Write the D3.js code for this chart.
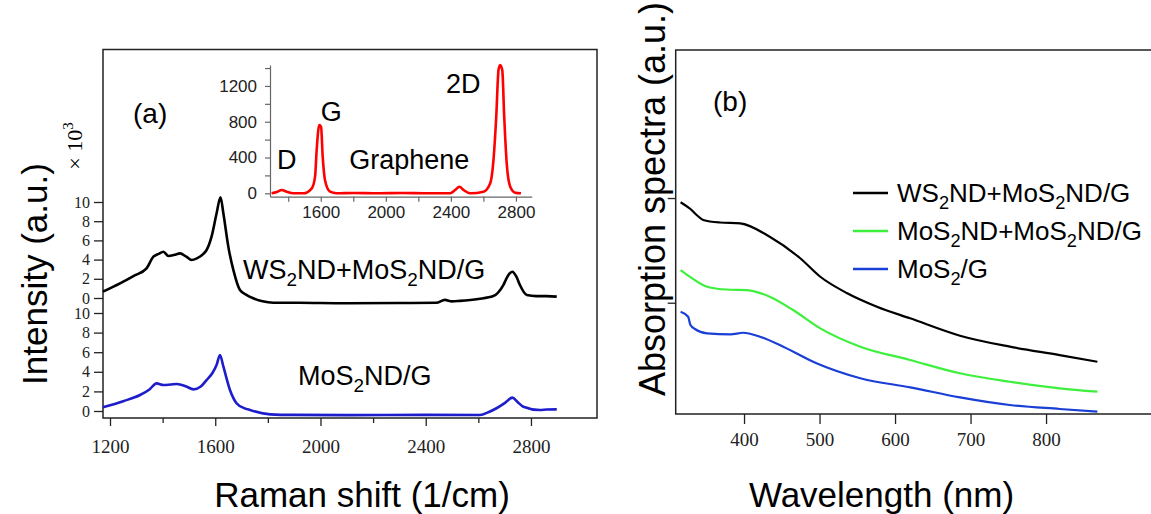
<!DOCTYPE html>
<html>
<head>
<meta charset="utf-8">
<script src="https://cdn.jsdelivr.net/npm/d3@7"></script>
<style>
  body { margin: 0; background: #fff; }
  svg { display: block; }
  text { font-family: "Liberation Sans", Arial, sans-serif; fill: #000; }
  .serif text, text.serif { font-family: "Liberation Serif", "Times New Roman", serif; }
</style>
</head>
<body>
<svg id="chart" width="1151" height="514"></svg>
<script>
// (a) Raman, WS2ND+MoS2ND/G  (x 1/cm, intensity x10^3)
const wsShift = [1173,1238,1289,1339,1365,1385,1403,1422,1445,1466,1490,1510,1530,1555,1567,1586,1605,1620,1631,1650,1669,1694,1720,1745,1780,1821,1922,2100,2300,2440,2473,2500,2530,2600,2657,2695,2712,2729,2745,2758,2784,2820,2860,2898];
const wsInt   = [0.66,1.53,2.29,3.09,4.3,4.6,4.82,4.38,4.5,4.65,4.3,3.96,4.13,4.6,5.0,6.4,8.8,10.5,8.8,5.3,2.9,0.83,0.3,-0.03,-0.35,-0.49,-0.5,-0.55,-0.52,-0.5,-0.2,-0.35,-0.3,-0.1,0.2,1.35,2.3,2.74,2.2,1.35,0.31,0.2,0.2,0.14];
// (a) Raman, MoS2ND/G
const moShift = [1173,1250,1314,1350,1377,1403,1430,1454,1490,1517,1545,1567,1590,1605,1618,1631,1656,1681,1710,1732,1808,1900,2100,2400,2606,2640,2669,2700,2729,2750,2771,2834,2860,2898];
const moInt   = [0.38,1.0,1.63,2.2,2.82,2.65,2.7,2.76,2.5,2.21,2.5,3.16,3.9,4.69,5.71,4.52,2.14,0.79,0.3,0.1,-0.34,-0.4,-0.42,-0.4,-0.41,-0.1,0.28,0.8,1.36,0.9,0.44,0.1,0.15,0.17];
// inset, graphene
const grShift = [1298,1330,1360,1391,1431,1493,1545,1565,1575,1591,1602,1612,1626,1657,1698,1800,1950,2100,2250,2396,2426,2453,2478,2519,2601,2642,2662,2679,2693,2703,2716,2728,2745,2765,2796,2831];
const grInt   = [0,15,37,18,0,0,56,186,484,763,744,409,149,18,0,4,0,3,0,0,37,74,37,0,18,112,372,856,1378,1434,1378,856,297,74,7,0];

// (b) absorption
const wlBlack = [316,329,338,346,368,395,434,474,501,536,576,620,686,752,818,868];
const abBlack = [1.96,1.895,1.833,1.79,1.766,1.758,1.63,1.427,1.248,1.093,0.962,0.851,0.685,0.58,0.5,0.436];
const wlGreen = [316,329,351,377,404,434,465,501,554,620,686,752,818,868];
const abGreen = [1.312,1.245,1.153,1.126,1.121,1.057,0.93,0.755,0.58,0.453,0.326,0.245,0.182,0.15];
const wlBlue  = [316,326,329,335,351,382,399,421,452,496,554,620,686,752,818,868];
const abBlue  = [0.914,0.866,0.787,0.749,0.708,0.698,0.713,0.675,0.58,0.421,0.278,0.192,0.096,0.023,-0.015,-0.041];

const legendNames = [["WS","2","ND+MoS","2","ND/G"],["MoS","2","ND+MoS","2","ND/G"],["MoS","2","/G"]];
const legendColors = ["#000000","#3cf03c","#1a3fd6"];

const svg = d3.select("#chart");
svg.append("rect").attr("width",1151).attr("height",514).attr("fill","#fff");
const fmt = d3.format("d");

// writes text with subscripts (odd entries of parts are subscripts)
function subText(g, x, y, size, parts) {
  const t = g.append("text").attr("x", x).attr("y", y).style("font-size", size + "px");
  const shift = size * 0.25;
  parts.forEach((p, i) => {
    const sp = t.append("tspan").text(p);
    if (i % 2 === 1) sp.attr("dy", shift).style("font-size", (size * 0.7) + "px");
    else if (i > 0) sp.attr("dy", -shift);
  });
  return t;
}

// ---------- panel (a) ----------
const aBox = { left: 103, right: 597, top: 49.5, bottom: 418 };
const xA = d3.scaleLinear().domain([1173.4, 3051]).range([aBox.left, aBox.right]);
const yUp = d3.scaleLinear().domain([0, 10]).range([298, 202]);
const yLow = d3.scaleLinear().domain([0, 10]).range([411, 313]);

svg.append("rect")
  .attr("x", aBox.left).attr("y", aBox.top)
  .attr("width", aBox.right - aBox.left).attr("height", aBox.bottom - aBox.top)
  .attr("fill", "none").attr("stroke", "#222").attr("stroke-width", 1.5);

const styleAxis = (g, size) => {
  g.select(".domain").remove();
  g.selectAll("line").attr("stroke", "#222").attr("stroke-width", 1.3);
  g.selectAll("text").style("font-size", size + "px").style("fill", "#222");
};

[yUp, yLow].forEach(s => {
  svg.append("g").attr("class", "serif")
    .attr("transform", `translate(${aBox.left},0)`)
    .call(d3.axisLeft(s).tickValues([0,2,4,6,8,10]).tickSize(9).tickPadding(4).tickFormat(fmt))
    .call(g => styleAxis(g, 16));
});

svg.append("g").attr("class", "serif")
  .attr("transform", `translate(0,${aBox.bottom})`)
  .call(d3.axisBottom(xA).tickValues([1200,1600,2000,2400,2800]).tickSize(8).tickPadding(14).tickFormat(fmt))
  .call(g => styleAxis(g, 19));
svg.append("g")
  .attr("transform", `translate(0,${aBox.bottom})`)
  .call(d3.axisBottom(xA).tickValues([1400,1800,2200,2600]).tickSize(5).tickFormat(""))
  .call(g => styleAxis(g, 19));

const lineWs = d3.line().x((d, i) => xA(wsShift[i])).y(d => yUp(d)).curve(d3.curveMonotoneX);
const lineMo = d3.line().x((d, i) => xA(moShift[i])).y(d => yLow(d)).curve(d3.curveMonotoneX);
svg.append("path").attr("d", lineWs(wsInt)).attr("fill", "none").attr("stroke", "#000").attr("stroke-width", 2.6);
svg.append("path").attr("d", lineMo(moInt)).attr("fill", "none").attr("stroke", "#1d1dcc").attr("stroke-width", 2.6);

subText(svg, 243, 279, 27, ["WS","2","ND+MoS","2","ND/G"]);
subText(svg, 298, 385, 27, ["MoS","2","ND/G"]);

svg.append("text").attr("x", 133).attr("y", 123).style("font-size", "28px").text("(a)");

const xlab = svg.append("text").attr("class", "serif")
  .attr("transform", "translate(82,146) rotate(-90)")
  .attr("text-anchor", "middle").style("font-size", "22px");
xlab.append("tspan").text("× 10");
xlab.append("tspan").attr("dy", -9).style("font-size", "15px").text("3");

svg.append("text").attr("transform", "translate(47,274) rotate(-90)")
  .attr("text-anchor", "middle").style("font-size", "35px").text("Intensity (a.u.)");
svg.append("text").attr("x", 362).attr("y", 507)
  .attr("text-anchor", "middle").style("font-size", "35px").text("Raman shift (1/cm)");

// inset
const xI = d3.scaleLinear().domain([1288, 2897]).range([270, 531.7]);
const yI = d3.scaleLinear().domain([-38, 1434]).range([196.7, 65]);
const insetAxis = (g) => {
  g.select(".domain").attr("stroke", "#666").attr("stroke-width", 1.2);
  g.selectAll("line").attr("stroke", "#666").attr("stroke-width", 1.2);
  g.selectAll("text").style("font-size", "17px").style("fill", "#222");
};
svg.append("g").attr("transform", "translate(270,0)")
  .call(d3.axisLeft(yI).tickValues([0,200,400,600,800,1000,1200,1400]).tickSize(5).tickPadding(8).tickSizeOuter(0)
    .tickFormat(d => d % 400 === 0 ? fmt(d) : ""))
  .call(insetAxis);
svg.append("g").attr("transform", "translate(0,196.7)")
  .call(d3.axisBottom(xI).tickValues([1400,1600,1800,2000,2200,2400,2600,2800]).tickSize(5).tickPadding(4).tickSizeOuter(0)
    .tickFormat(d => d % 400 === 0 ? fmt(d) : ""))
  .call(insetAxis);

const lineGr = d3.line().x((d, i) => xI(grShift[i])).y(d => yI(d)).curve(d3.curveMonotoneX);
svg.append("path").attr("d", lineGr(grInt)).attr("fill", "none").attr("stroke", "#ff0000").attr("stroke-width", 2.6);

[["D", 277, 169], ["G", 320.7, 121], ["2D", 446, 93], ["Graphene", 349.3, 169]].forEach(([t, x, y]) => {
  svg.append("text").attr("x", x).attr("y", y).style("font-size", "27px").text(t);
});

// ---------- panel (b) ----------
const bBox = { left: 675.7, right: 1151, top: 50, bottom: 414 };
const xB = d3.scaleLinear().domain([309.5, 939]).range([bBox.left, bBox.right]);
const yB = d3.scaleLinear().domain([-0.063, 3.414]).range([bBox.bottom, bBox.top]);

svg.append("path")
  .attr("d", `M${bBox.right},${bBox.top}H${bBox.left}V${bBox.bottom}H${bBox.right}`)
  .attr("fill", "none").attr("stroke", "#222").attr("stroke-width", 1.5);

svg.append("g").attr("class", "serif")
  .attr("transform", `translate(0,${bBox.bottom})`)
  .call(d3.axisBottom(xB).tickValues([400,500,600,700,800]).tickSize(10).tickPadding(9).tickFormat(fmt))
  .call(g => styleAxis(g, 19));
svg.append("g")
  .attr("transform", `translate(${bBox.left},0)`)
  .call(d3.axisLeft(yB).tickValues([1,2]).tickSize(8).tickFormat(""))
  .call(g => styleAxis(g, 15));

const absSeries = [[wlBlack, abBlack], [wlGreen, abGreen], [wlBlue, abBlue]];
absSeries.forEach(([wl, ab], k) => {
  const ln = d3.line().x((d, i) => xB(wl[i])).y(d => yB(d)).curve(d3.curveMonotoneX);
  svg.append("path").attr("d", ln(ab)).attr("fill", "none")
    .attr("stroke", legendColors[k]).attr("stroke-width", 2.2);
});

legendNames.forEach((parts, k) => {
  const y = 193 + k * 38;
  svg.append("line").attr("x1", 853).attr("x2", 888).attr("y1", y).attr("y2", y)
    .attr("stroke", legendColors[k]).attr("stroke-width", 2.5);
  subText(svg, 897, y + 9, 26, parts);
});

svg.append("text").attr("x", 713).attr("y", 111).style("font-size", "28px").text("(b)");
svg.append("text").attr("transform", "translate(665,199) rotate(-90)")
  .attr("text-anchor", "middle").style("font-size", "36px").text("Absorption spectra (a.u.)");
svg.append("text").attr("x", 881.5).attr("y", 507)
  .attr("text-anchor", "middle").style("font-size", "35px").text("Wavelength (nm)");
</script>
</body>
</html>
